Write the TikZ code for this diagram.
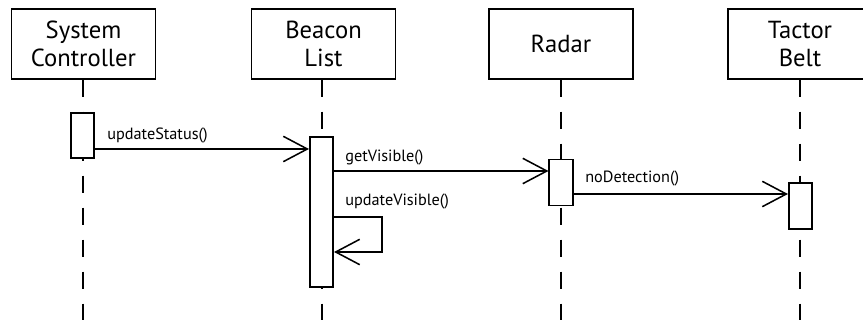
\documentclass[tikz,border=0pt]{standalone}
\usepackage{fontspec}
\setmainfont{PT Sans}
\usetikzlibrary{arrows.meta}
\begin{document}
\begin{tikzpicture}[x=0.75pt,y=-0.75pt,
  obj/.style={draw,line width=1.3pt,minimum width=108pt,minimum height=52pt,align=center,font=\fontsize{18.5}{20.5}\selectfont,inner sep=0pt},
  act/.style={draw,fill=white,line width=1.3pt,minimum width=17.5pt,inner sep=0pt},
  life/.style={line width=1.3pt,dash pattern=on 12.75pt off 11.25pt},
  msg/.style={line width=1.15pt,-{Straight Barb[length=18pt,width=19pt,line width=1.15pt]}},
  lbl/.style={anchor=base west,font=\fontsize{12.2}{14}\selectfont,inner sep=0pt}]
\useasboundingbox (0,0) rectangle (863,320);
% objects
\node[obj] (sc) at (83.5,44) {System\\Controller};
\node[obj] (bl) at (323.5,44) {Beacon\\List};
\node[obj] (ra) at (561,44) {Radar};
\node[obj] (tb) at (800,44) {Tactor\\Belt};
% lifeline ends
\coordinate (scE) at (83,320);
\coordinate (blE) at (322,320);
\coordinate (raE) at (561,320);
\coordinate (tbE) at (800,320);
\draw[life] (sc.south -| scE) -- (scE);
\draw[life] (bl.south -| blE) -- (blE);
\draw[life] (ra.south -| raE) -- (raE);
\draw[life] (tb.south -| tbE) -- (tbE);
% activations
\node[act,minimum height=33.75pt] (a1) at (82.5,135.5) {};
\node[act,minimum height=112.5pt] (a2) at (321.5,212) {};
\node[act,minimum height=34.5pt] (a3) at (561,182.5) {};
\node[act,minimum height=34.5pt] (a4) at (800.5,206) {};
% messages
\draw[msg] (a1.east |- 0,149) -- (a2.west |- 0,149);
\node[lbl] (l1) at (107,140) {updateStatus()};
\draw[msg] (a2.east |- 0,171) -- (a3.west |- 0,171);
\node[lbl] (l2) at (345,162) {getVisible()};
\coordinate (s1) at (382,217);
\coordinate (s2) at (382,252);
\draw[msg] (a2.east |- s1) -- (s1) -- (s2) -- (a2.east |- s2);
\node[lbl] (l3) at (345,206) {updateVisible()};
\draw[msg] (a3.east |- 0,194) -- (a4.west |- 0,194);
\node[lbl] (l4) at (585,183) {noDetection()};
\end{tikzpicture}
\end{document}
